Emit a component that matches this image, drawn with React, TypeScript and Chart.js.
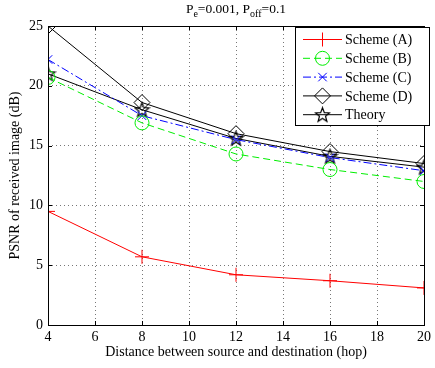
import React, { useEffect, useRef } from "react";
import { Chart, registerables } from "chart.js";

Chart.register(...registerables);

const hops = [4, 8, 12, 16, 20];
const schemeA = [9.5, 5.7, 4.2, 3.7, 3.1];
const schemeB = [20.7, 16.9, 14.3, 13.0, 12.0];
const schemeC = [22.2, 17.5, 15.5, 14.0, 12.9];
const schemeD = [25.0, 18.6, 16.0, 14.5, 13.5];
const theory = [21.0, 18.0, 15.6, 14.1, 13.2];
const xTicks = [4, 6, 8, 10, 12, 14, 16, 18, 20];
const yTicks = [0, 5, 10, 15, 20, 25];
const seriesNames = ["Scheme (A)", "Scheme (B)", "Scheme (C)", "Scheme (D)", "Theory"];

const FONT = "'Liberation Serif', 'Times New Roman', serif";

function makeStar(size: number): HTMLCanvasElement {
  const c = document.createElement("canvas");
  c.width = size;
  c.height = size;
  const g = c.getContext("2d")!;
  const cx = size / 2, cy = size / 2 + 0.5;
  const R = size / 2 - 1, r = R * 0.42;
  g.beginPath();
  for (let i = 0; i < 10; i++) {
    const rad = i % 2 === 0 ? R : r;
    const a = -Math.PI / 2 + (i * Math.PI) / 5;
    const px = cx + rad * Math.cos(a), py = cy + rad * Math.sin(a);
    if (i === 0) g.moveTo(px, py); else g.lineTo(px, py);
  }
  g.closePath();
  g.strokeStyle = "#000";
  g.lineWidth = 1.2;
  g.stroke();
  return c;
}

export default function App() {
  const ref = useRef<HTMLCanvasElement>(null);
  useEffect(() => {
    document.body.style.margin = "0";
    const star = makeStar(17);
    const mk = (vals: number[]) => hops.map((x, i) => ({ x, y: vals[i] }));
    const styles = [
      { color: "#ff0000", dash: [] as number[], point: "cross", radius: 7 },
      { color: "#00ee00", dash: [7, 4], point: "circle", radius: 7 },
      { color: "#0000ff", dash: [8, 3, 2, 3], point: "crossRot", radius: 6 },
      { color: "#000000", dash: [] as number[], point: "rectRot", radius: 8 },
      { color: "#000000", dash: [] as number[], point: star as any, radius: 8 },
    ];
    const allData = [schemeA, schemeB, schemeC, schemeD, theory];
    const datasets = allData.map((d, i) => ({
      label: seriesNames[i],
      data: mk(d),
      borderColor: styles[i].color,
      backgroundColor: "transparent",
      borderDash: styles[i].dash,
      borderWidth: 1,
      pointStyle: styles[i].point as any,
      pointRadius: styles[i].radius,
      pointBorderColor: styles[i].color,
      pointBackgroundColor: "transparent",
      pointBorderWidth: 1,
      tension: 0,
    }));

    function drawPoint(ctx: CanvasRenderingContext2D, style: any, r: number, x: number, y: number, color: string) {
      ctx.strokeStyle = color;
      ctx.lineWidth = 1;
      ctx.beginPath();
      if (style === "cross") {
        ctx.moveTo(x - r, y); ctx.lineTo(x + r, y);
        ctx.moveTo(x, y - r); ctx.lineTo(x, y + r);
      } else if (style === "circle") {
        ctx.arc(x, y, r, 0, Math.PI * 2);
      } else if (style === "crossRot") {
        const d = r * 0.7071;
        ctx.moveTo(x - d, y - d); ctx.lineTo(x + d, y + d);
        ctx.moveTo(x - d, y + d); ctx.lineTo(x + d, y - d);
      } else if (style === "rectRot") {
        ctx.moveTo(x, y - r); ctx.lineTo(x + r, y); ctx.lineTo(x, y + r); ctx.lineTo(x - r, y); ctx.closePath();
      } else if (style instanceof HTMLCanvasElement) {
        ctx.drawImage(style, x - style.width / 2, y - style.height / 2);
      }
      ctx.stroke();
    }

    const deco = {
      id: "deco",
      afterDraw(chart: any) {
        const ctx = chart.ctx as CanvasRenderingContext2D;
        const a = chart.chartArea;
        const xs = chart.scales.x, ys = chart.scales.y;
        ctx.save();
        ctx.strokeStyle = "#000";
        ctx.lineWidth = 1;
        ctx.setLineDash([]);
        ctx.strokeRect(a.left + 0.5, a.top + 0.5, a.right - a.left, a.bottom - a.top);
        ctx.beginPath();
        xTicks.forEach((t) => {
          const px = Math.round(xs.getPixelForValue(t)) + 0.5;
          ctx.moveTo(px, a.bottom); ctx.lineTo(px, a.bottom - 4);
          ctx.moveTo(px, a.top); ctx.lineTo(px, a.top + 4);
        });
        yTicks.forEach((t) => {
          const py = Math.round(ys.getPixelForValue(t)) + 0.5;
          ctx.moveTo(a.left, py); ctx.lineTo(a.left + 4, py);
          ctx.moveTo(a.right, py); ctx.lineTo(a.right - 4, py);
        });
        ctx.stroke();
        // title with subscripts
        ctx.fillStyle = "#000";
        ctx.textBaseline = "alphabetic";
        const parts: [string, boolean][] = [["P", false], ["e", true], ["=0.001, P", false], ["off", true], ["=0.1", false]];
        const big = `13.5px ${FONT}`, small = `10px ${FONT}`;
        let total = 0;
        parts.forEach(([s, sub]) => { ctx.font = sub ? small : big; total += ctx.measureText(s).width; });
        let x = (a.left + a.right) / 2 - total / 2;
        const base = 13;
        parts.forEach(([s, sub]) => {
          ctx.font = sub ? small : big;
          ctx.fillText(s, x, sub ? base + 4 : base);
          x += ctx.measureText(s).width;
        });
        // legend
        const lx = 295, ly = 27, lw = 134, lh = 98;
        ctx.fillStyle = "#fff";
        ctx.fillRect(lx, ly, lw, lh);
        ctx.strokeStyle = "#000";
        ctx.lineWidth = 1;
        ctx.strokeRect(lx + 0.5, ly + 0.5, lw, lh);
        ctx.font = `14px ${FONT}`;
        ctx.textBaseline = "middle";
        chart.data.datasets.forEach((ds: any, i: number) => {
          const yy = 39.5 + i * 18.8;
          ctx.strokeStyle = ds.borderColor;
          ctx.setLineDash(ds.borderDash || []);
          ctx.lineWidth = 1;
          ctx.beginPath();
          ctx.moveTo(303, yy); ctx.lineTo(342, yy);
          ctx.stroke();
          ctx.setLineDash([]);
          drawPoint(ctx, ds.pointStyle, ds.pointRadius, 322.5, yy, ds.borderColor);
          ctx.fillStyle = "#000";
          ctx.fillText(ds.label, 345, yy + 1);
        });
        ctx.restore();
      },
    };

    const chart = new Chart(ref.current!, {
      type: "line",
      data: { datasets: datasets as any },
      plugins: [deco],
      options: {
        animation: false,
        responsive: false,
        maintainAspectRatio: false,
        layout: { padding: { top: 26, right: 5, left: 0, bottom: 0 } },
        plugins: { legend: { display: false }, title: { display: false }, tooltip: { enabled: false } },
        scales: {
          x: {
            type: "linear",
            min: 4,
            max: 20,
            afterBuildTicks: (s: any) => { s.ticks = xTicks.map((v) => ({ value: v })); },
            afterFit: (s: any) => { s.height = 43; },
            grid: { color: "#777", lineWidth: 1, drawTicks: false },
            border: { display: false, dash: [1, 3] },
            ticks: { color: "#000", font: { family: FONT, size: 14 }, padding: 4, maxRotation: 0, autoSkip: false },
            title: { display: true, text: "Distance between source and destination (hop)", color: "#000", font: { family: FONT, size: 14 }, padding: { top: 0, bottom: 7 } },
          },
          y: {
            type: "linear",
            min: 0,
            max: 25,
            afterBuildTicks: (s: any) => { s.ticks = yTicks.map((v) => ({ value: v })); },
            afterFit: (s: any) => { s.width = 48; },
            grid: { color: "#777", lineWidth: 1, drawTicks: false },
            border: { display: false, dash: [1, 3] },
            ticks: { color: "#000", font: { family: FONT, size: 14 }, padding: 5 },
            title: { display: true, text: "PSNR of received image (dB)", color: "#000", font: { family: FONT, size: 14 }, padding: { top: 7, bottom: 4 } },
          },
        },
      },
    });
    return () => chart.destroy();
  }, []);
  return (
    <div style={{ position: "absolute", left: 0, top: 0, width: 435, height: 368, background: "#fff" }}>
      <canvas ref={ref} width={435} height={368} style={{ width: 435, height: 368 }} />
    </div>
  );
}
